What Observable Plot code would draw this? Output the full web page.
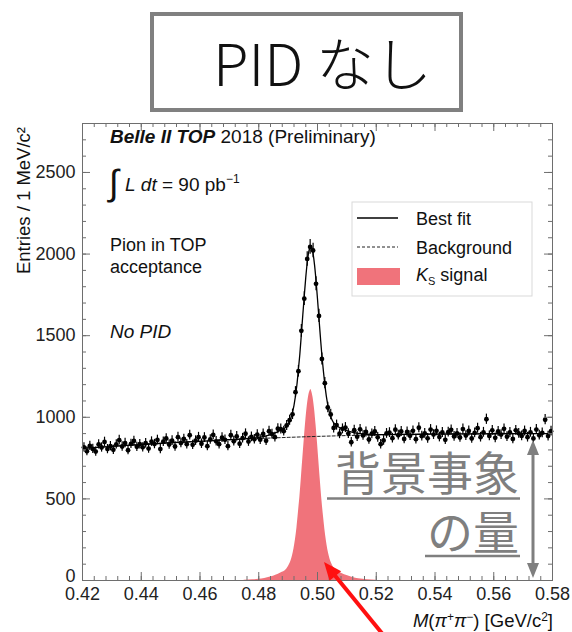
<!DOCTYPE html>
<html><head><meta charset="utf-8">
<script src="https://cdn.jsdelivr.net/npm/d3@7"></script>
<script src="https://cdn.jsdelivr.net/npm/@observablehq/plot@0.6"></script>
<style>
html,body{margin:0;padding:0;background:#fff;}
#chart{position:relative;width:572px;height:632px;overflow:hidden;}
</style></head><body><div id="chart"></div>
<script>
// ---- data ----
const massLow = 0.42;      // GeV/c^2, first bin edge
const binWidth = 0.001;    // 1 MeV/c^2 bins
const counts = [
  816, 792, 825, 806, 790, 834, 815, 849, 805, 823,
  801, 834, 860, 821, 842, 798, 837, 855, 819, 835,
  816, 841, 808, 851, 836, 861, 805, 850, 870, 833,
  857, 821, 878, 842, 867, 835, 890, 831, 857, 878,
  838, 876, 823, 864, 892, 853, 835, 875, 862, 823,
  890, 853, 883, 838, 872, 899, 851, 880, 865, 893,
  863, 898, 856, 915, 897, 878, 930, 928, 915, 950,
  982, 1018, 1154, 1282, 1530, 1727, 1970, 2044, 2022, 1818,
  1621, 1357, 1209, 1060, 1017, 935, 952, 899, 929, 937,
  900, 847, 921, 881, 926, 889, 910, 864, 899, 913,
  877, 835, 858, 901, 906, 872, 924, 890, 913, 867,
  910, 887, 917, 866, 936, 884, 901, 871, 925, 894,
  917, 879, 907, 862, 909, 923, 883, 901, 876, 928,
  888, 916, 870, 904, 933, 878, 908, 988, 886, 920,
  874, 913, 894, 929, 881, 907, 867, 920, 902, 886,
  916, 878, 908, 870, 925, 890, 905, 985, 885, 915
];
const fitMass = [0.42,0.43,0.44,0.45,0.46,0.47,0.475,0.478,0.48,0.482,0.484,0.486,0.487,0.488,0.489,0.49,0.491,0.492,0.493,0.4935,0.494,0.4945,0.495,0.4955,0.496,0.4965,0.497,0.4975,0.4977,0.498,0.4985,0.499,0.4995,0.5,0.5005,0.501,0.5015,0.502,0.503,0.504,0.505,0.506,0.507,0.508,0.51,0.512,0.514,0.517,0.52,0.53,0.54,0.55,0.56,0.57,0.58];
const fitCounts = [810,822,833,844,853,863,868,872,877,883,894,908,917,927,936,960,999,1073,1201,1294,1389,1507,1628,1745,1856,1947,2012,2045,2052,2042,2002,1932,1837,1725,1605,1488,1377,1284,1130,1033,982,955,942,933,918,908,901,896,894,895,897,898,899,900,900];
const bgMass = [0.42,0.43,0.44,0.45,0.46,0.47,0.48,0.49,0.50,0.51,0.52,0.53,0.54,0.55,0.56,0.57,0.58];
const bgCounts = [810,822,833,844,853,862,870,877,883,888,892,895,897,898,899,900,900];
const sigMass = [0.475,0.478,0.48,0.482,0.484,0.486,0.487,0.488,0.489,0.49,0.491,0.492,0.493,0.4935,0.494,0.4945,0.495,0.4955,0.496,0.4965,0.497,0.4975,0.4977,0.498,0.4985,0.499,0.4995,0.5,0.5005,0.501,0.5015,0.502,0.503,0.504,0.505,0.506,0.507,0.508,0.51,0.512,0.514,0.517,0.52];
const sigCounts = [2,4,7,12,21,34,42,51,60,83,121,195,322,415,510,627,748,865,975,1066,1131,1163,1170,1160,1120,1050,954,842,722,604,493,400,245,148,96,69,55,46,30,19,11,5,2];
const xTicks = [0.42,0.44,0.46,0.48,0.50,0.52,0.54,0.56,0.58];
const yTicks = [0,500,1000,1500,2000,2500];

// ---- build tables ----
const bins = counts.map((n, i) => ({mass: massLow + (i + 0.5) * binWidth, n}));
const fit = fitMass.map((m, i) => ({mass: m, n: fitCounts[i]}));
const bg = bgMass.map((m, i) => ({mass: m, n: bgCounts[i]}));
const sig = sigMass.map((m, i) => ({mass: m, n: sigCounts[i]}));

const W = 572, H = 632, mL = 82, mR = 20, mT = 123, mB = 52;
const pw = W - mL - mR, ph = H - mT - mB;
const FONT = "Liberation Sans, Arial, Helvetica, sans-serif";
const JFONT = "Noto Sans CJK JP, sans-serif";
const SIGCOL = "#f0737b";
const AXCOL = "#6e6e6e";

const xMinor = d3.range(0, 41).map(i => +(0.42 + i * 0.004).toFixed(3));
const yMinor = d3.range(0, 28).map(i => i * 100);
const yAxisStyle = {tickSize: 0, tickPadding: 7, tickFormat: d3.format("d"), fontSize: 18, fill: "#222", label: null};

const svg = Plot.plot({
  width: W, height: H,
  marginLeft: mL, marginRight: mR, marginTop: mT, marginBottom: mB,
  style: {fontFamily: FONT, background: "white"},
  x: {domain: [0.42, 0.58], label: null},
  y: {domain: [0, 2800], label: null},
  marks: [
    Plot.areaY(sig, {x: "mass", y: "n", fill: SIGCOL, curve: "monotone-x"}),
    Plot.line(bg, {x: "mass", y: "n", stroke: "#222", strokeWidth: 1, strokeDasharray: "3,2"}),
    Plot.line(fit, {x: "mass", y: "n", stroke: "black", strokeWidth: 1.3, curve: "monotone-x"}),
    Plot.ruleX(bins, {x: "mass", y1: d => d.n - Math.sqrt(d.n), y2: d => d.n + Math.sqrt(d.n), stroke: "black", strokeWidth: 1.2}),
    Plot.dot(bins, {x: "mass", y: "n", r: 2.4, fill: "black"}),
    // inward ticks on all four sides
    Plot.tickX(xMinor, {x: d => d, insetTop: ph - 4, stroke: AXCOL}),
    Plot.tickX(xTicks, {x: d => d, insetTop: ph - 8, stroke: AXCOL}),
    Plot.tickX(xMinor, {x: d => d, insetBottom: ph - 4, stroke: AXCOL}),
    Plot.tickX(xTicks, {x: d => d, insetBottom: ph - 8, stroke: AXCOL}),
    Plot.tickY(yMinor, {y: d => d, insetRight: pw - 4, stroke: AXCOL}),
    Plot.tickY(yTicks, {y: d => d, insetRight: pw - 8, stroke: AXCOL}),
    Plot.tickY(yMinor, {y: d => d, insetLeft: pw - 4, stroke: AXCOL}),
    Plot.tickY(yTicks, {y: d => d, insetLeft: pw - 8, stroke: AXCOL}),
    Plot.frame({stroke: AXCOL}),
    Plot.axisX(xTicks, {tickSize: 0, tickPadding: 7, tickFormat: d3.format(".2f"), fontSize: 18, fill: "#222", label: null}),
    Plot.axisY(yTicks.filter(d => d > 0), yAxisStyle),
    Plot.axisY(yTicks.filter(d => d === 0), {...yAxisStyle, dy: -4})
  ]
});
document.getElementById("chart").append(svg);

// ---- annotations ----
const root = d3.select(svg);
const g = root.append("g").attr("font-family", FONT).attr("fill", "#111").attr("text-anchor", "start");

function rich(x, y, parts, size, anchor = "start") {
  const t = g.append("text").attr("x", x).attr("y", y).attr("font-size", size).attr("text-anchor", anchor);
  for (const p of parts) {
    const s = t.append("tspan").text(p.t);
    if (p.italic) s.attr("font-style", "italic");
    if (p.bold) s.attr("font-weight", "bold");
    if (p.size) s.attr("font-size", p.size);
    if (p.dy) s.attr("dy", p.dy);
  }
  return t;
}

// Belle II header
rich(110, 143, [{t: "Belle II TOP", bold: true, italic: true}, {t: " 2018 (Preliminary)"}], 19);
// integral luminosity
rich(109, 195, [{t: "∫"}], 36);
rich(125, 191, [{t: "L", italic: true}, {t: " "}, {t: "dt", italic: true}, {t: " = 90 pb"}, {t: "−1", size: 12, dy: -8}], 19);
rich(110, 251, [{t: "Pion in TOP"}], 18);
rich(110, 273, [{t: "acceptance"}], 18);
rich(110, 338, [{t: "No PID", italic: true}], 19);

// axis titles
g.append("text").attr("transform", "translate(29.5,127) rotate(-90)").attr("text-anchor", "end")
  .attr("font-size", 18.5).text("Entries / 1 MeV/c²");
rich(553, 627, [{t: "M", italic: true}, {t: "("}, {t: "π", italic: true}, {t: "+", size: 12, dy: -6},
  {t: "π", italic: true, dy: 6}, {t: "−", size: 12, dy: -6}, {t: ") [GeV/c", dy: 6}, {t: "2", size: 12, dy: -6}, {t: "]", dy: 6}], 18.5, "end");

// legend
const lg = g.append("g");
lg.append("rect").attr("x", 352).attr("y", 202).attr("width", 180).attr("height", 94)
  .attr("fill", "white").attr("stroke", "#d9d9d9");
lg.append("line").attr("x1", 357).attr("x2", 398).attr("y1", 218).attr("y2", 218).attr("stroke", "black").attr("stroke-width", 1.3);
lg.append("line").attr("x1", 357).attr("x2", 398).attr("y1", 247).attr("y2", 247).attr("stroke", "#222").attr("stroke-dasharray", "3,2");
lg.append("rect").attr("x", 357).attr("y", 268).attr("width", 43).attr("height", 17).attr("fill", SIGCOL);
rich(416, 225, [{t: "Best fit"}], 18);
rich(416, 254, [{t: "Background"}], 18);
rich(416, 281, [{t: "K", italic: true}, {t: "S", size: 11, dy: 4}, {t: " signal", dy: -4}], 18);

// title box
g.append("rect").attr("x", 152).attr("y", 14).attr("width", 309).attr("height", 96)
  .attr("fill", "white").attr("stroke", "#808080").attr("stroke-width", 4);
g.append("text").attr("x", 213).attr("y", 86).attr("text-anchor", "start").attr("font-family", JFONT).attr("font-size", 58)
  .attr("font-weight", 300).attr("fill", "#111").text("PID なし");

// background amount annotation (one two-line text)
const GRAY = "#7f7f7f";
const jt = g.append("text").attr("text-anchor", "end").attr("font-family", JFONT)
  .attr("font-size", 46).attr("fill", GRAY);
jt.append("tspan").attr("x", 519).attr("y", 490).text("背景事象");
jt.append("tspan").attr("x", 519).attr("y", 549).text("の量");
g.append("line").attr("x1", 327).attr("x2", 520).attr("y1", 498.5).attr("y2", 498.5).attr("stroke", GRAY).attr("stroke-width", 2.5);
g.append("line").attr("x1", 425).attr("x2", 520).attr("y1", 556).attr("y2", 556).attr("stroke", GRAY).attr("stroke-width", 2.5);

// gray double arrow
const ax = 533, aTop = 440, aBot = 578;
g.append("line").attr("x1", ax).attr("x2", ax).attr("y1", aTop + 12).attr("y2", aBot - 12).attr("stroke", GRAY).attr("stroke-width", 3);
g.append("path").attr("d", `M${ax},${aTop}L${ax - 6},${aTop + 15}L${ax + 6},${aTop + 15}Z`).attr("fill", GRAY);
g.append("path").attr("d", `M${ax},${aBot}L${ax - 6},${aBot - 15}L${ax + 6},${aBot - 15}Z`).attr("fill", GRAY);

// red arrow pointing at the signal
const tipX = 324, tipY = 562, ux = 0.631, uy = 0.776, hl = 18, hw = 7.5;
const bx = tipX + hl * ux, by = tipY + hl * uy;
g.append("line").attr("x1", bx - 2 * ux).attr("y1", by - 2 * uy).attr("x2", tipX + 110 * ux).attr("y2", tipY + 110 * uy)
  .attr("stroke", "#ff1010").attr("stroke-width", 4);
g.append("path").attr("d", `M${tipX},${tipY}L${bx - hw * uy},${by + hw * ux}L${bx + hw * uy},${by - hw * ux}Z`).attr("fill", "#ff1010");
</script>
</body></html>
